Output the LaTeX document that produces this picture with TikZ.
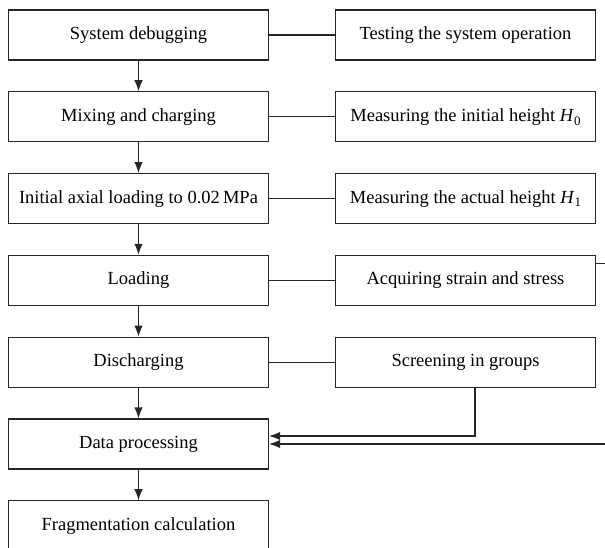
\documentclass[tikz,border=0pt]{standalone}
\usepackage{fontspec}
\setmainfont{Liberation Serif}
\usetikzlibrary{arrows.meta}
\newcommand\subidx[1]{\raisebox{-0.45ex}{\fontsize{13}{13}\selectfont #1}}
\begin{document}
\begin{tikzpicture}[x=1pt,y=-1pt]
			\def\dy{81.8}
			\tikzset{bx/.style={draw=black!85,line width=1.2pt,rectangle,minimum width=260pt,minimum height=50pt,inner sep=2pt,font=\fontsize{18.5}{22}\selectfont},
				ar/.style={draw=black!85,line width=1.2pt,-{Latex[length=11pt,width=8.5pt]}},
				ln/.style={draw=black!85,line width=1.2pt}}
			\useasboundingbox(0,0)rectangle(605,547);
			\clip(0,0)rectangle(605,547);
			\path(138.5,35)node[bx](L1){System debugging}++(0,\dy)node[bx](L2){Mixing and charging}++(0,\dy)node[bx](L3){Initial axial loading to 0.02\,MPa}
			++(0,\dy)node[bx](L4){Loading}++(0,\dy)node[bx](L5){Discharging}++(0,\dy)node[bx](L6){Data processing}++(0,\dy)node[bx](L7){Fragmentation calculation};
			\path(465.5,35)node[bx](R1){Testing the system operation}++(0,\dy)node[bx](R2){Measuring the initial height \textit{H}\subidx{0}}
			++(0,\dy)node[bx](R3){Measuring the actual height \textit{H}\subidx{1}}++(0,\dy)node[bx](R4){Acquiring strain and stress}++(0,\dy)node[bx](R5){Screening in groups};
			\foreach \x/\y in {
				L1/L2,L2/L3,L3/L4,
				L4/L5,L5/L6,L6/L7}
			\draw[ar](\x.south)--(\y.north);
			\foreach \i in {1,...,5}
			\draw[ln](L\i.east)--(R\i.west);
			%%feedback to data processing
			\coordinate(far)at(625,0);
			\draw[ar]([xshift=9.5pt]R5.south)|-([yshift=8pt]L6.east);
			\draw[ar]([yshift=17pt]R4.east)-|(far|-L6.east)--(L6.east);
		\end{tikzpicture}
\end{document}
